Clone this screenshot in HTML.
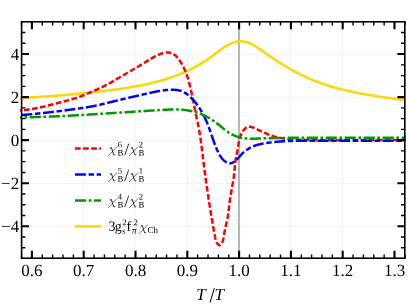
<!DOCTYPE html>
<html><head><meta charset="utf-8"><title>chart</title>
<style>html,body{margin:0;padding:0;background:#fff;overflow:hidden}body{width:407px;height:304px;position:relative;font-family:"Liberation Serif",serif}</style>
</head><body>
<svg width="407" height="304" viewBox="0 0 407 304" style="position:absolute;left:0;top:0;will-change:transform">
<rect width="407" height="304" fill="#fff"/>
<path d="M83.50,21.8 V258.2 M135.50,21.8 V258.2 M187.50,21.8 V258.2 M290.50,21.8 V258.2 M342.50,21.8 V258.2 M21.6,226.50 H404.8 M21.6,183.50 H404.8 M21.6,140.50 H404.8 M21.6,97.50 H404.8 M21.6,54.50 H404.8" stroke="#f4f4f4" stroke-width="1" fill="none"/>
<path d="M239.0,21.8 V258.2" stroke="#939393" stroke-width="1.35" fill="none"/>
<g fill="none" stroke-width="2.5" stroke-linejoin="round">
<path d="M19.99,97.76 L20.49,97.75 L20.99,97.73 L21.49,97.72 L21.99,97.70 L22.49,97.69 L23.00,97.67 L23.50,97.66 L24.00,97.64 L24.50,97.62 L25.00,97.60 L25.50,97.59 L26.00,97.57 L26.50,97.55 L27.00,97.53 L27.50,97.51 L28.00,97.49 L28.50,97.47 L29.00,97.45 L29.50,97.42 L30.00,97.40 L30.50,97.38 L31.00,97.36 L31.50,97.33 L32.00,97.31 L32.50,97.29 L33.00,97.26 L33.50,97.24 L34.00,97.21 L34.50,97.19 L34.99,97.16 L35.49,97.14 L35.99,97.11 L36.49,97.08 L36.99,97.05 L37.49,97.03 L37.99,97.00 L38.49,96.97 L38.99,96.94 L39.48,96.91 L39.98,96.88 L40.48,96.85 L40.98,96.82 L41.48,96.79 L41.98,96.76 L42.48,96.73 L42.97,96.70 L43.47,96.67 L43.97,96.63 L44.47,96.60 L44.97,96.57 L45.47,96.53 L45.96,96.50 L46.46,96.47 L46.96,96.43 L47.46,96.40 L47.96,96.36 L48.45,96.33 L48.95,96.29 L49.45,96.26 L49.95,96.22 L50.44,96.18 L50.94,96.15 L51.44,96.11 L51.94,96.07 L52.43,96.03 L52.93,96.00 L53.43,95.96 L53.93,95.92 L54.42,95.88 L54.92,95.84 L55.42,95.80 L55.92,95.76 L56.41,95.72 L56.91,95.68 L57.41,95.64 L57.91,95.60 L58.40,95.56 L58.90,95.52 L59.40,95.48 L59.89,95.43 L60.39,95.39 L60.89,95.35 L61.39,95.31 L61.88,95.26 L62.38,95.22 L62.88,95.18 L63.37,95.13 L63.87,95.09 L64.37,95.04 L64.86,95.00 L65.36,94.96 L65.86,94.91 L66.35,94.87 L66.85,94.82 L67.35,94.77 L67.84,94.73 L68.34,94.68 L68.84,94.64 L69.34,94.59 L69.83,94.54 L70.33,94.50 L70.83,94.45 L71.32,94.40 L71.82,94.35 L72.32,94.30 L72.81,94.26 L73.31,94.21 L73.81,94.16 L74.30,94.11 L74.80,94.06 L75.30,94.01 L75.79,93.96 L76.29,93.91 L76.79,93.86 L77.28,93.81 L77.78,93.76 L78.28,93.71 L78.77,93.66 L79.27,93.61 L79.77,93.56 L80.26,93.51 L80.76,93.46 L81.25,93.41 L81.75,93.36 L82.25,93.31 L82.74,93.25 L83.24,93.20 L83.74,93.15 L84.23,93.10 L84.73,93.05 L85.23,92.99 L85.73,92.94 L86.22,92.89 L86.72,92.83 L87.22,92.78 L87.71,92.73 L88.21,92.67 L88.71,92.62 L89.20,92.57 L89.70,92.51 L90.20,92.46 L90.69,92.41 L91.19,92.35 L91.69,92.30 L92.18,92.24 L92.68,92.19 L93.18,92.13 L93.67,92.08 L94.17,92.02 L94.67,91.97 L95.17,91.91 L95.66,91.86 L96.16,91.80 L96.66,91.75 L97.15,91.69 L97.65,91.64 L98.15,91.58 L98.65,91.52 L99.14,91.47 L99.64,91.41 L100.14,91.35 L100.63,91.30 L101.13,91.24 L101.63,91.18 L102.13,91.13 L102.62,91.07 L103.12,91.01 L103.62,90.95 L104.11,90.90 L104.61,90.84 L105.11,90.78 L105.61,90.72 L106.10,90.66 L106.60,90.60 L107.10,90.54 L107.59,90.48 L108.09,90.42 L108.59,90.36 L109.08,90.30 L109.58,90.24 L110.08,90.18 L110.57,90.12 L111.07,90.06 L111.57,90.00 L112.06,89.93 L112.56,89.87 L113.06,89.81 L113.55,89.74 L114.05,89.68 L114.55,89.61 L115.04,89.55 L115.54,89.48 L116.04,89.42 L116.53,89.35 L117.03,89.29 L117.52,89.22 L118.02,89.15 L118.51,89.08 L119.01,89.02 L119.51,88.95 L120.00,88.88 L120.50,88.81 L120.99,88.74 L121.49,88.67 L121.98,88.60 L122.48,88.52 L122.97,88.45 L123.47,88.38 L123.96,88.31 L124.46,88.23 L124.95,88.16 L125.44,88.08 L125.94,88.01 L126.43,87.93 L126.93,87.85 L127.42,87.78 L127.91,87.70 L128.41,87.62 L128.90,87.54 L129.39,87.46 L129.89,87.38 L130.38,87.30 L130.87,87.22 L131.37,87.14 L131.86,87.05 L132.35,86.97 L132.84,86.89 L133.33,86.80 L133.83,86.72 L134.32,86.63 L134.81,86.54 L135.30,86.45 L135.79,86.37 L136.28,86.28 L136.77,86.19 L137.27,86.10 L137.76,86.00 L138.25,85.91 L138.74,85.82 L139.23,85.73 L139.72,85.63 L140.21,85.54 L140.70,85.44 L141.18,85.34 L141.67,85.24 L142.16,85.15 L142.65,85.05 L143.14,84.95 L143.63,84.85 L144.12,84.74 L144.60,84.64 L145.09,84.54 L145.58,84.43 L146.07,84.33 L146.55,84.22 L147.04,84.11 L147.53,84.01 L148.01,83.90 L148.50,83.79 L148.98,83.68 L149.47,83.56 L149.95,83.45 L150.44,83.34 L150.92,83.22 L151.41,83.11 L151.89,82.99 L152.38,82.87 L152.86,82.75 L153.34,82.63 L153.83,82.51 L154.31,82.39 L154.79,82.27 L155.28,82.14 L155.76,82.02 L156.24,81.89 L156.72,81.77 L157.20,81.64 L157.68,81.51 L158.17,81.38 L158.65,81.25 L159.13,81.12 L159.61,80.98 L160.09,80.85 L160.57,80.71 L161.04,80.58 L161.52,80.44 L162.00,80.30 L162.48,80.16 L162.96,80.02 L163.44,79.87 L163.91,79.73 L164.39,79.59 L164.87,79.44 L165.34,79.29 L165.82,79.14 L166.29,78.99 L166.77,78.84 L167.25,78.69 L167.72,78.54 L168.19,78.38 L168.67,78.23 L169.14,78.07 L169.62,77.91 L170.09,77.75 L170.56,77.59 L171.03,77.43 L171.51,77.26 L171.98,77.10 L172.45,76.93 L172.92,76.77 L173.39,76.60 L173.86,76.43 L174.33,76.26 L174.80,76.08 L175.27,75.91 L175.74,75.73 L176.20,75.56 L176.67,75.38 L177.14,75.20 L177.60,75.02 L178.07,74.84 L178.54,74.65 L179.00,74.47 L179.46,74.28 L179.93,74.09 L180.39,73.90 L180.85,73.71 L181.32,73.52 L181.78,73.33 L182.24,73.13 L182.70,72.94 L183.16,72.74 L183.62,72.54 L184.08,72.34 L184.53,72.14 L184.99,71.94 L185.45,71.73 L185.90,71.53 L186.36,71.32 L186.82,71.11 L187.27,70.90 L187.72,70.69 L188.17,70.47 L188.63,70.26 L189.08,70.04 L189.53,69.83 L189.98,69.61 L190.43,69.39 L190.88,69.16 L191.32,68.94 L191.77,68.72 L192.22,68.49 L192.66,68.26 L193.10,68.03 L193.55,67.80 L193.99,67.57 L194.43,67.33 L194.87,67.10 L195.31,66.86 L195.75,66.62 L196.19,66.38 L196.63,66.14 L197.06,65.90 L197.50,65.65 L197.94,65.41 L198.37,65.16 L198.80,64.91 L199.23,64.66 L199.66,64.41 L200.09,64.15 L200.52,63.90 L200.95,63.64 L201.38,63.38 L201.81,63.12 L202.23,62.86 L202.65,62.59 L203.08,62.33 L203.50,62.06 L203.92,61.79 L204.34,61.52 L204.76,61.25 L205.18,60.98 L205.59,60.70 L206.01,60.42 L206.42,60.15 L206.84,59.87 L207.25,59.58 L207.66,59.30 L208.07,59.02 L208.48,58.73 L208.89,58.44 L209.29,58.15 L209.70,57.86 L210.10,57.56 L210.51,57.27 L210.91,56.97 L211.31,56.68 L211.71,56.38 L212.11,56.08 L212.51,55.78 L212.91,55.48 L213.31,55.18 L213.71,54.87 L214.11,54.57 L214.50,54.27 L214.90,53.97 L215.30,53.66 L215.70,53.36 L216.10,53.06 L216.49,52.76 L216.89,52.46 L217.29,52.16 L217.69,51.86 L218.09,51.56 L218.49,51.26 L218.89,50.96 L219.30,50.67 L219.70,50.37 L220.11,50.08 L220.51,49.79 L220.92,49.50 L221.33,49.22 L221.74,48.93 L222.15,48.65 L222.56,48.37 L222.98,48.09 L223.39,47.82 L223.81,47.55 L224.23,47.28 L224.66,47.01 L225.08,46.75 L225.51,46.49 L225.94,46.23 L226.37,45.98 L226.80,45.73 L227.24,45.48 L227.68,45.24 L228.12,45.00 L228.57,44.77 L229.01,44.54 L229.47,44.32 L229.92,44.10 L230.38,43.88 L230.84,43.67 L231.30,43.47 L231.76,43.27 L232.23,43.08 L232.70,42.90 L233.17,42.72 L233.65,42.55 L234.12,42.39 L234.60,42.24 L235.08,42.10 L235.56,41.97 L236.04,41.85 L236.53,41.74 L237.02,41.64 L237.50,41.55 L237.99,41.48 L238.48,41.41 L238.97,41.36 L239.46,41.32 L239.95,41.30 L240.45,41.29 L240.94,41.29 L241.43,41.30 L241.93,41.33 L242.42,41.37 L242.91,41.42 L243.40,41.48 L243.89,41.55 L244.38,41.64 L244.87,41.73 L245.36,41.84 L245.85,41.96 L246.33,42.08 L246.81,42.22 L247.29,42.37 L247.77,42.52 L248.24,42.68 L248.71,42.86 L249.18,43.04 L249.65,43.22 L250.11,43.42 L250.57,43.62 L251.03,43.83 L251.48,44.05 L251.93,44.28 L252.37,44.51 L252.82,44.74 L253.26,44.98 L253.70,45.23 L254.13,45.48 L254.57,45.74 L255.00,46.00 L255.43,46.26 L255.85,46.53 L256.28,46.80 L256.70,47.07 L257.12,47.35 L257.54,47.63 L257.96,47.91 L258.38,48.19 L258.80,48.47 L259.21,48.76 L259.63,49.04 L260.04,49.33 L260.45,49.62 L260.87,49.90 L261.28,50.19 L261.69,50.48 L262.10,50.76 L262.51,51.05 L262.92,51.34 L263.33,51.63 L263.73,51.91 L264.14,52.20 L264.55,52.49 L264.96,52.78 L265.37,53.06 L265.77,53.35 L266.18,53.64 L266.59,53.92 L267.00,54.21 L267.41,54.50 L267.81,54.78 L268.22,55.07 L268.63,55.35 L269.04,55.64 L269.45,55.92 L269.86,56.21 L270.27,56.49 L270.68,56.77 L271.10,57.05 L271.51,57.33 L271.92,57.61 L272.33,57.89 L272.75,58.17 L273.16,58.45 L273.58,58.73 L273.99,59.01 L274.41,59.28 L274.82,59.56 L275.24,59.84 L275.66,60.11 L276.08,60.38 L276.49,60.66 L276.91,60.93 L277.33,61.20 L277.75,61.47 L278.17,61.75 L278.59,62.02 L279.01,62.28 L279.44,62.55 L279.86,62.82 L280.28,63.09 L280.70,63.35 L281.13,63.62 L281.55,63.88 L281.98,64.15 L282.40,64.41 L282.83,64.67 L283.25,64.94 L283.68,65.20 L284.11,65.46 L284.54,65.71 L284.96,65.97 L285.39,66.23 L285.82,66.49 L286.25,66.74 L286.68,67.00 L287.11,67.25 L287.54,67.50 L287.98,67.76 L288.41,68.01 L288.84,68.26 L289.28,68.51 L289.71,68.76 L290.14,69.00 L290.58,69.25 L291.01,69.49 L291.45,69.74 L291.89,69.98 L292.32,70.23 L292.76,70.47 L293.20,70.71 L293.64,70.95 L294.08,71.19 L294.52,71.42 L294.96,71.66 L295.40,71.90 L295.84,72.13 L296.28,72.36 L296.72,72.60 L297.16,72.83 L297.61,73.06 L298.05,73.29 L298.50,73.51 L298.94,73.74 L299.39,73.97 L299.83,74.19 L300.28,74.41 L300.72,74.64 L301.17,74.86 L301.62,75.08 L302.07,75.30 L302.52,75.51 L302.97,75.73 L303.42,75.95 L303.87,76.16 L304.32,76.37 L304.77,76.59 L305.22,76.80 L305.67,77.01 L306.13,77.21 L306.58,77.42 L307.03,77.63 L307.49,77.83 L307.94,78.03 L308.40,78.23 L308.86,78.44 L309.31,78.63 L309.77,78.83 L310.23,79.03 L310.69,79.22 L311.14,79.42 L311.60,79.61 L312.06,79.80 L312.52,79.99 L312.98,80.18 L313.45,80.37 L313.91,80.55 L314.37,80.74 L314.83,80.92 L315.30,81.10 L315.76,81.28 L316.22,81.46 L316.69,81.64 L317.16,81.82 L317.62,81.99 L318.09,82.17 L318.55,82.34 L319.02,82.51 L319.49,82.69 L319.96,82.85 L320.43,83.02 L320.89,83.19 L321.36,83.36 L321.83,83.52 L322.30,83.68 L322.78,83.85 L323.25,84.01 L323.72,84.17 L324.19,84.33 L324.66,84.49 L325.14,84.64 L325.61,84.80 L326.08,84.95 L326.56,85.11 L327.03,85.26 L327.51,85.41 L327.98,85.56 L328.46,85.71 L328.93,85.86 L329.41,86.00 L329.89,86.15 L330.36,86.29 L330.84,86.44 L331.32,86.58 L331.80,86.72 L332.28,86.86 L332.75,87.00 L333.23,87.14 L333.71,87.28 L334.19,87.41 L334.67,87.55 L335.16,87.68 L335.64,87.82 L336.12,87.95 L336.60,88.08 L337.08,88.21 L337.56,88.34 L338.05,88.47 L338.53,88.60 L339.01,88.72 L339.50,88.85 L339.98,88.97 L340.46,89.10 L340.95,89.22 L341.43,89.34 L341.92,89.47 L342.40,89.59 L342.89,89.71 L343.37,89.82 L343.86,89.94 L344.35,90.06 L344.83,90.17 L345.32,90.29 L345.81,90.40 L346.30,90.52 L346.78,90.63 L347.27,90.74 L347.76,90.85 L348.25,90.96 L348.74,91.07 L349.22,91.18 L349.71,91.29 L350.20,91.40 L350.69,91.50 L351.18,91.61 L351.67,91.71 L352.16,91.82 L352.65,91.92 L353.14,92.02 L353.63,92.13 L354.12,92.23 L354.61,92.33 L355.11,92.43 L355.60,92.53 L356.09,92.62 L356.58,92.72 L357.07,92.82 L357.56,92.92 L358.06,93.01 L358.55,93.11 L359.04,93.20 L359.53,93.29 L360.03,93.39 L360.52,93.48 L361.01,93.57 L361.50,93.66 L362.00,93.75 L362.49,93.84 L362.98,93.93 L363.48,94.02 L363.97,94.11 L364.46,94.20 L364.96,94.28 L365.45,94.37 L365.95,94.46 L366.44,94.54 L366.93,94.63 L367.43,94.71 L367.92,94.79 L368.42,94.88 L368.91,94.96 L369.41,95.04 L369.90,95.13 L370.40,95.21 L370.89,95.29 L371.39,95.37 L371.88,95.45 L372.38,95.53 L372.87,95.61 L373.37,95.68 L373.86,95.76 L374.36,95.84 L374.85,95.92 L375.35,95.99 L375.84,96.07 L376.34,96.15 L376.83,96.22 L377.33,96.30 L377.82,96.37 L378.32,96.45 L378.81,96.52 L379.31,96.59 L379.80,96.67 L380.30,96.74 L380.79,96.81 L381.29,96.88 L381.78,96.96 L382.28,97.03 L382.77,97.10 L383.27,97.17 L383.76,97.24 L384.26,97.31 L384.75,97.38 L385.25,97.45 L385.74,97.52 L386.23,97.59 L386.73,97.66 L387.22,97.73 L387.72,97.79 L388.21,97.86 L388.71,97.93 L389.20,98.00 L389.69,98.06 L390.19,98.13 L390.68,98.20 L391.18,98.27 L391.67,98.33 L392.16,98.40 L392.66,98.47 L393.15,98.53 L393.64,98.60 L394.13,98.66 L394.63,98.73 L395.12,98.79 L395.61,98.86 L396.11,98.92 L396.60,98.99 L397.09,99.05 L397.58,99.12 L398.07,99.18 L398.57,99.25 L399.06,99.31 L399.55,99.38 L400.04,99.44 L400.53,99.51 L401.02,99.57 L401.51,99.64 L402.00,99.70 L402.49,99.76 L402.98,99.83 L403.47,99.89 L403.96,99.96 L404.45,100.02 L404.94,100.08 L405.43,100.15" stroke="#ffd700"/>
<path d="M20.00,110.50 L20.50,110.46 L21.00,110.42 L21.51,110.38 L22.01,110.34 L22.51,110.29 L23.01,110.25 L23.51,110.20 L24.00,110.14 L24.50,110.09 L25.00,110.03 L25.50,109.97 L26.00,109.91 L26.49,109.85 L26.99,109.79 L27.49,109.72 L27.98,109.65 L28.48,109.58 L28.97,109.51 L29.47,109.43 L29.96,109.36 L30.45,109.28 L30.95,109.20 L31.44,109.12 L31.93,109.03 L32.42,108.95 L32.92,108.86 L33.41,108.78 L33.90,108.69 L34.39,108.60 L34.88,108.50 L35.37,108.41 L35.86,108.31 L36.35,108.22 L36.84,108.12 L37.33,108.02 L37.82,107.92 L38.31,107.82 L38.80,107.71 L39.29,107.61 L39.77,107.50 L40.26,107.40 L40.75,107.29 L41.24,107.18 L41.72,107.07 L42.21,106.96 L42.70,106.85 L43.18,106.74 L43.67,106.62 L44.16,106.51 L44.64,106.39 L45.13,106.28 L45.62,106.16 L46.10,106.04 L46.59,105.92 L47.07,105.80 L47.56,105.68 L48.04,105.56 L48.53,105.44 L49.01,105.32 L49.50,105.20 L49.98,105.07 L50.47,104.95 L50.95,104.83 L51.44,104.70 L51.92,104.58 L52.40,104.45 L52.89,104.33 L53.37,104.20 L53.86,104.08 L54.34,103.95 L54.83,103.83 L55.31,103.70 L55.79,103.57 L56.28,103.45 L56.76,103.32 L57.25,103.19 L57.73,103.07 L58.22,102.94 L58.70,102.81 L59.19,102.69 L59.67,102.56 L60.15,102.44 L60.64,102.31 L61.12,102.18 L61.61,102.06 L62.09,101.93 L62.58,101.80 L63.06,101.68 L63.54,101.55 L64.03,101.42 L64.51,101.30 L65.00,101.17 L65.48,101.04 L65.96,100.91 L66.45,100.78 L66.93,100.65 L67.41,100.52 L67.90,100.39 L68.38,100.26 L68.86,100.12 L69.34,99.99 L69.82,99.85 L70.30,99.71 L70.78,99.58 L71.26,99.44 L71.74,99.30 L72.22,99.16 L72.70,99.01 L73.18,98.87 L73.66,98.72 L74.14,98.58 L74.61,98.43 L75.09,98.28 L75.56,98.12 L76.04,97.97 L76.51,97.81 L76.99,97.66 L77.46,97.50 L77.93,97.33 L78.41,97.17 L78.88,97.00 L79.35,96.84 L79.82,96.67 L80.29,96.49 L80.75,96.32 L81.22,96.14 L81.69,95.96 L82.15,95.78 L82.62,95.60 L83.09,95.42 L83.55,95.24 L84.01,95.05 L84.48,94.86 L84.94,94.67 L85.40,94.48 L85.87,94.29 L86.33,94.10 L86.79,93.91 L87.25,93.71 L87.71,93.52 L88.17,93.32 L88.63,93.13 L89.09,92.93 L89.55,92.73 L90.01,92.54 L90.47,92.34 L90.93,92.14 L91.39,91.94 L91.85,91.75 L92.31,91.55 L92.77,91.35 L93.23,91.15 L93.69,90.95 L94.15,90.75 L94.60,90.55 L95.06,90.35 L95.52,90.14 L95.98,89.94 L96.43,89.74 L96.89,89.53 L97.35,89.33 L97.80,89.12 L98.26,88.91 L98.71,88.71 L99.16,88.50 L99.62,88.29 L100.07,88.08 L100.52,87.87 L100.98,87.65 L101.43,87.44 L101.88,87.22 L102.33,87.01 L102.78,86.79 L103.23,86.57 L103.67,86.35 L104.12,86.13 L104.57,85.91 L105.01,85.68 L105.46,85.46 L105.90,85.23 L106.35,85.00 L106.79,84.77 L107.23,84.54 L107.67,84.31 L108.11,84.07 L108.55,83.84 L108.99,83.60 L109.43,83.36 L109.87,83.12 L110.30,82.87 L110.74,82.63 L111.17,82.38 L111.61,82.13 L112.04,81.88 L112.47,81.63 L112.90,81.38 L113.33,81.13 L113.76,80.87 L114.19,80.62 L114.62,80.36 L115.05,80.11 L115.48,79.85 L115.91,79.59 L116.34,79.33 L116.77,79.07 L117.19,78.82 L117.62,78.56 L118.05,78.30 L118.48,78.04 L118.91,77.79 L119.34,77.53 L119.77,77.27 L120.20,77.02 L120.63,76.76 L121.07,76.51 L121.50,76.26 L121.93,76.00 L122.36,75.75 L122.80,75.50 L123.23,75.25 L123.66,75.00 L124.10,74.75 L124.53,74.50 L124.97,74.25 L125.40,74.00 L125.83,73.75 L126.27,73.50 L126.70,73.25 L127.14,73.00 L127.57,72.75 L128.01,72.51 L128.44,72.26 L128.88,72.01 L129.31,71.76 L129.75,71.51 L130.18,71.26 L130.62,71.01 L131.05,70.77 L131.49,70.52 L131.92,70.27 L132.35,70.02 L132.79,69.77 L133.22,69.52 L133.65,69.27 L134.08,69.01 L134.52,68.76 L134.95,68.51 L135.38,68.26 L135.81,68.00 L136.24,67.75 L136.67,67.50 L137.10,67.24 L137.53,66.98 L137.95,66.73 L138.38,66.47 L138.81,66.21 L139.23,65.95 L139.66,65.69 L140.08,65.43 L140.51,65.17 L140.93,64.91 L141.35,64.64 L141.78,64.38 L142.20,64.11 L142.62,63.85 L143.04,63.58 L143.46,63.32 L143.88,63.05 L144.31,62.79 L144.73,62.52 L145.15,62.26 L145.57,62.00 L145.99,61.73 L146.42,61.47 L146.84,61.21 L147.26,60.94 L147.69,60.68 L148.11,60.42 L148.54,60.16 L148.97,59.91 L149.39,59.65 L149.82,59.39 L150.25,59.14 L150.68,58.89 L151.11,58.64 L151.55,58.39 L151.98,58.14 L152.42,57.89 L152.85,57.65 L153.29,57.41 L153.73,57.17 L154.17,56.93 L154.62,56.70 L155.06,56.46 L155.51,56.23 L155.96,56.01 L156.41,55.78 L156.87,55.56 L157.32,55.34 L157.78,55.13 L158.24,54.91 L158.70,54.71 L159.17,54.50 L159.64,54.30 L160.11,54.10 L160.58,53.91 L161.06,53.72 L161.53,53.54 L162.01,53.37 L162.49,53.21 L162.98,53.06 L163.46,52.93 L163.95,52.80 L164.44,52.69 L164.93,52.60 L165.42,52.52 L165.91,52.46 L166.41,52.42 L166.90,52.39 L167.40,52.39 L167.90,52.41 L168.39,52.45 L168.89,52.52 L169.39,52.60 L169.88,52.71 L170.37,52.83 L170.85,52.97 L171.33,53.14 L171.81,53.32 L172.28,53.51 L172.74,53.73 L173.19,53.96 L173.63,54.21 L174.06,54.48 L174.48,54.76 L174.89,55.06 L175.28,55.37 L175.67,55.69 L176.04,56.03 L176.40,56.38 L176.76,56.74 L177.10,57.11 L177.43,57.49 L177.76,57.87 L178.08,58.27 L178.39,58.67 L178.69,59.08 L178.99,59.49 L179.28,59.90 L179.57,60.32 L179.85,60.74 L180.13,61.17 L180.40,61.59 L180.67,62.02 L180.93,62.45 L181.20,62.88 L181.45,63.31 L181.70,63.74 L181.95,64.18 L182.20,64.61 L182.44,65.05 L182.67,65.49 L182.91,65.93 L183.13,66.38 L183.36,66.82 L183.58,67.27 L183.80,67.71 L184.01,68.16 L184.22,68.61 L184.43,69.07 L184.64,69.52 L184.84,69.97 L185.03,70.43 L185.23,70.89 L185.42,71.34 L185.61,71.80 L185.79,72.26 L185.97,72.73 L186.15,73.19 L186.33,73.65 L186.50,74.12 L186.67,74.58 L186.84,75.05 L187.00,75.52 L187.17,75.99 L187.33,76.46 L187.48,76.93 L187.64,77.41 L187.79,77.88 L187.94,78.35 L188.09,78.83 L188.23,79.31 L188.37,79.78 L188.51,80.26 L188.65,80.74 L188.79,81.22 L188.92,81.70 L189.06,82.18 L189.19,82.66 L189.32,83.15 L189.44,83.63 L189.57,84.11 L189.69,84.60 L189.81,85.08 L189.93,85.57 L190.05,86.06 L190.17,86.54 L190.29,87.03 L190.40,87.52 L190.51,88.01 L190.63,88.50 L190.74,88.99 L190.85,89.48 L190.96,89.97 L191.06,90.46 L191.17,90.95 L191.27,91.44 L191.38,91.93 L191.48,92.42 L191.59,92.91 L191.69,93.41 L191.79,93.90 L191.89,94.39 L191.99,94.88 L192.09,95.38 L192.19,95.87 L192.29,96.36 L192.39,96.86 L192.49,97.35 L192.58,97.84 L192.68,98.34 L192.78,98.83 L192.88,99.32 L192.98,99.82 L193.07,100.31 L193.17,100.80 L193.27,101.29 L193.37,101.79 L193.47,102.28 L193.56,102.77 L193.66,103.26 L193.76,103.76 L193.86,104.25 L193.96,104.74 L194.06,105.23 L194.16,105.72 L194.26,106.21 L194.37,106.70 L194.47,107.19 L194.57,107.68 L194.67,108.17 L194.77,108.66 L194.88,109.15 L194.98,109.64 L195.08,110.13 L195.19,110.62 L195.29,111.11 L195.39,111.59 L195.50,112.08 L195.60,112.57 L195.70,113.06 L195.81,113.55 L195.91,114.04 L196.01,114.52 L196.11,115.01 L196.22,115.50 L196.32,115.99 L196.42,116.48 L196.53,116.96 L196.63,117.45 L196.73,117.94 L196.83,118.43 L196.93,118.92 L197.04,119.40 L197.14,119.89 L197.24,120.38 L197.34,120.87 L197.44,121.35 L197.54,121.84 L197.64,122.33 L197.73,122.82 L197.83,123.31 L197.93,123.79 L198.03,124.28 L198.12,124.77 L198.22,125.26 L198.31,125.75 L198.41,126.24 L198.50,126.73 L198.60,127.22 L198.69,127.71 L198.78,128.19 L198.87,128.68 L198.96,129.17 L199.05,129.66 L199.14,130.15 L199.23,130.65 L199.32,131.14 L199.40,131.63 L199.49,132.12 L199.57,132.61 L199.66,133.10 L199.74,133.59 L199.82,134.09 L199.90,134.58 L199.98,135.07 L200.06,135.56 L200.14,136.06 L200.22,136.55 L200.29,137.05 L200.37,137.54 L200.44,138.03 L200.51,138.53 L200.59,139.02 L200.66,139.52 L200.73,140.01 L200.80,140.51 L200.87,141.01 L200.94,141.50 L201.00,142.00 L201.07,142.49 L201.14,142.99 L201.21,143.49 L201.27,143.98 L201.34,144.48 L201.40,144.98 L201.47,145.47 L201.53,145.97 L201.59,146.47 L201.66,146.97 L201.72,147.46 L201.78,147.96 L201.84,148.46 L201.91,148.96 L201.97,149.45 L202.03,149.95 L202.09,150.45 L202.15,150.95 L202.21,151.44 L202.27,151.94 L202.34,152.44 L202.40,152.94 L202.46,153.43 L202.52,153.93 L202.58,154.43 L202.64,154.93 L202.70,155.42 L202.76,155.92 L202.83,156.42 L202.89,156.92 L202.95,157.41 L203.01,157.91 L203.07,158.41 L203.14,158.90 L203.20,159.40 L203.26,159.90 L203.32,160.39 L203.39,160.89 L203.45,161.39 L203.51,161.88 L203.57,162.38 L203.64,162.88 L203.70,163.37 L203.76,163.87 L203.83,164.37 L203.89,164.86 L203.96,165.36 L204.02,165.86 L204.08,166.35 L204.15,166.85 L204.21,167.34 L204.28,167.84 L204.34,168.34 L204.41,168.83 L204.47,169.33 L204.54,169.82 L204.60,170.32 L204.67,170.81 L204.73,171.31 L204.80,171.81 L204.86,172.30 L204.93,172.80 L204.99,173.29 L205.06,173.79 L205.13,174.28 L205.19,174.78 L205.26,175.27 L205.33,175.77 L205.39,176.26 L205.46,176.76 L205.53,177.25 L205.60,177.75 L205.66,178.24 L205.73,178.74 L205.80,179.23 L205.87,179.73 L205.93,180.22 L206.00,180.72 L206.07,181.21 L206.14,181.71 L206.21,182.20 L206.28,182.70 L206.35,183.19 L206.42,183.69 L206.49,184.18 L206.55,184.68 L206.62,185.17 L206.69,185.67 L206.76,186.16 L206.84,186.65 L206.91,187.15 L206.98,187.64 L207.05,188.14 L207.12,188.63 L207.19,189.13 L207.26,189.62 L207.33,190.11 L207.40,190.61 L207.48,191.10 L207.55,191.60 L207.62,192.09 L207.69,192.58 L207.77,193.08 L207.84,193.57 L207.91,194.07 L207.98,194.56 L208.06,195.05 L208.13,195.55 L208.21,196.04 L208.28,196.54 L208.35,197.03 L208.43,197.52 L208.50,198.02 L208.58,198.51 L208.65,199.01 L208.73,199.50 L208.80,199.99 L208.88,200.49 L208.95,200.98 L209.03,201.47 L209.11,201.97 L209.18,202.46 L209.26,202.96 L209.34,203.45 L209.41,203.94 L209.49,204.44 L209.57,204.93 L209.65,205.42 L209.72,205.92 L209.80,206.41 L209.88,206.90 L209.96,207.40 L210.04,207.89 L210.12,208.38 L210.20,208.88 L210.27,209.37 L210.35,209.86 L210.43,210.36 L210.51,210.85 L210.59,211.34 L210.68,211.84 L210.76,212.33 L210.84,212.82 L210.92,213.32 L211.00,213.81 L211.08,214.30 L211.16,214.80 L211.25,215.29 L211.33,215.79 L211.41,216.28 L211.49,216.77 L211.58,217.27 L211.66,217.76 L211.74,218.25 L211.83,218.75 L211.91,219.24 L212.00,219.73 L212.08,220.23 L212.16,220.72 L212.25,221.21 L212.34,221.71 L212.42,222.20 L212.51,222.69 L212.59,223.19 L212.68,223.68 L212.77,224.17 L212.85,224.67 L212.94,225.16 L213.03,225.65 L213.11,226.15 L213.20,226.64 L213.29,227.13 L213.38,227.63 L213.47,228.12 L213.56,228.61 L213.65,229.11 L213.74,229.60 L213.82,230.09 L213.91,230.59 L214.00,231.08 L214.10,231.57 L214.19,232.07 L214.28,232.56 L214.37,233.05 L214.46,233.55 L214.55,234.04 L214.64,234.53 L214.74,235.03 L214.83,235.52 L214.92,236.02 L215.02,236.51 L215.11,237.00 L215.20,237.50 L215.30,237.99 L215.40,238.48 L215.50,238.97 L215.62,239.46 L215.75,239.95 L215.89,240.43 L216.05,240.91 L216.22,241.38 L216.42,241.85 L216.64,242.31 L216.89,242.76 L217.17,243.21 L217.49,243.65 L217.83,244.07 L218.19,244.45 L218.57,244.77 L218.97,245.01 L219.36,245.15 L219.74,245.16 L220.12,245.05 L220.48,244.82 L220.83,244.50 L221.16,244.11 L221.47,243.67 L221.75,243.19 L222.02,242.70 L222.26,242.22 L222.47,241.73 L222.67,241.24 L222.84,240.75 L223.00,240.26 L223.14,239.76 L223.27,239.27 L223.38,238.78 L223.49,238.28 L223.58,237.79 L223.66,237.30 L223.74,236.80 L223.82,236.31 L223.89,235.82 L223.96,235.32 L224.03,234.83 L224.10,234.34 L224.18,233.84 L224.26,233.35 L224.34,232.86 L224.43,232.37 L224.51,231.88 L224.61,231.39 L224.70,230.90 L224.80,230.41 L224.90,229.92 L225.00,229.44 L225.10,228.95 L225.21,228.46 L225.32,227.97 L225.43,227.48 L225.54,227.00 L225.65,226.51 L225.76,226.02 L225.87,225.53 L225.98,225.05 L226.10,224.56 L226.21,224.07 L226.32,223.58 L226.43,223.10 L226.55,222.61 L226.66,222.12 L226.77,221.63 L226.88,221.14 L226.98,220.66 L227.09,220.17 L227.19,219.68 L227.30,219.19 L227.40,218.70 L227.50,218.21 L227.59,217.72 L227.68,217.23 L227.78,216.74 L227.86,216.24 L227.95,215.75 L228.03,215.26 L228.11,214.77 L228.18,214.27 L228.25,213.78 L228.32,213.28 L228.39,212.79 L228.45,212.29 L228.51,211.79 L228.57,211.30 L228.63,210.80 L228.69,210.30 L228.74,209.81 L228.80,209.31 L228.85,208.81 L228.90,208.31 L228.96,207.82 L229.01,207.32 L229.06,206.82 L229.12,206.32 L229.17,205.83 L229.23,205.33 L229.29,204.83 L229.34,204.33 L229.40,203.84 L229.46,203.34 L229.53,202.85 L229.59,202.35 L229.66,201.85 L229.73,201.36 L229.80,200.86 L229.87,200.37 L229.94,199.87 L230.01,199.38 L230.09,198.89 L230.17,198.39 L230.24,197.90 L230.32,197.41 L230.40,196.91 L230.48,196.42 L230.57,195.93 L230.65,195.43 L230.73,194.94 L230.82,194.45 L230.90,193.95 L230.99,193.46 L231.07,192.97 L231.16,192.48 L231.25,191.99 L231.34,191.49 L231.42,191.00 L231.51,190.51 L231.60,190.02 L231.69,189.53 L231.78,189.03 L231.86,188.54 L231.95,188.05 L232.04,187.56 L232.13,187.06 L232.21,186.57 L232.30,186.08 L232.39,185.59 L232.47,185.10 L232.56,184.60 L232.65,184.11 L232.73,183.62 L232.81,183.12 L232.90,182.63 L232.98,182.14 L233.06,181.64 L233.14,181.15 L233.22,180.66 L233.30,180.16 L233.37,179.67 L233.45,179.18 L233.52,178.68 L233.59,178.19 L233.67,177.69 L233.74,177.20 L233.80,176.70 L233.87,176.20 L233.93,175.71 L234.00,175.21 L234.06,174.72 L234.12,174.22 L234.17,173.72 L234.23,173.22 L234.28,172.73 L234.33,172.23 L234.38,171.73 L234.43,171.23 L234.47,170.73 L234.52,170.23 L234.56,169.73 L234.60,169.23 L234.64,168.73 L234.68,168.23 L234.72,167.73 L234.77,167.23 L234.81,166.73 L234.85,166.23 L234.90,165.73 L234.94,165.24 L234.99,164.74 L235.04,164.24 L235.09,163.75 L235.15,163.25 L235.21,162.75 L235.27,162.26 L235.34,161.77 L235.41,161.27 L235.48,160.78 L235.56,160.29 L235.64,159.80 L235.72,159.31 L235.81,158.82 L235.90,158.33 L235.99,157.84 L236.08,157.35 L236.17,156.86 L236.26,156.37 L236.36,155.89 L236.45,155.40 L236.55,154.91 L236.65,154.42 L236.75,153.93 L236.84,153.44 L236.94,152.95 L237.04,152.46 L237.13,151.97 L237.23,151.48 L237.32,150.98 L237.42,150.49 L237.51,150.00 L237.60,149.50 L237.69,149.01 L237.77,148.51 L237.86,148.01 L237.94,147.51 L238.02,147.01 L238.10,146.51 L238.18,146.01 L238.26,145.51 L238.34,145.01 L238.42,144.51 L238.50,144.01 L238.58,143.52 L238.67,143.02 L238.75,142.52 L238.84,142.02 L238.94,141.53 L239.04,141.03 L239.14,140.54 L239.25,140.05 L239.36,139.56 L239.48,139.08 L239.60,138.59 L239.73,138.11 L239.87,137.63 L240.01,137.16 L240.16,136.68 L240.32,136.21 L240.49,135.75 L240.67,135.29 L240.86,134.83 L241.05,134.37 L241.26,133.92 L241.48,133.47 L241.71,133.03 L241.95,132.59 L242.20,132.16 L242.47,131.73 L242.75,131.31 L243.04,130.89 L243.34,130.48 L243.66,130.07 L243.99,129.67 L244.34,129.29 L244.70,128.92 L245.07,128.57 L245.46,128.24 L245.86,127.93 L246.27,127.66 L246.69,127.41 L247.13,127.20 L247.58,127.02 L248.04,126.89 L248.50,126.80 L248.98,126.75 L249.47,126.74 L249.97,126.77 L250.47,126.83 L250.97,126.92 L251.48,127.03 L251.99,127.17 L252.49,127.33 L253.00,127.50 L253.50,127.69 L254.00,127.89 L254.50,128.10 L254.98,128.31 L255.46,128.52 L255.93,128.74 L256.39,128.95 L256.84,129.16 L257.29,129.38 L257.73,129.59 L258.18,129.80 L258.61,130.02 L259.05,130.23 L259.49,130.45 L259.93,130.66 L260.37,130.87 L260.81,131.09 L261.25,131.30 L261.70,131.51 L262.15,131.73 L262.60,131.94 L263.05,132.15 L263.50,132.36 L263.96,132.57 L264.41,132.77 L264.87,132.98 L265.33,133.18 L265.79,133.38 L266.26,133.58 L266.72,133.78 L267.19,133.98 L267.65,134.17 L268.12,134.36 L268.59,134.55 L269.06,134.73 L269.53,134.91 L270.01,135.09 L270.48,135.26 L270.96,135.44 L271.43,135.60 L271.91,135.77 L272.39,135.93 L272.87,136.08 L273.35,136.24 L273.83,136.38 L274.31,136.53 L274.79,136.66 L275.27,136.80 L275.76,136.93 L276.24,137.05 L276.72,137.18 L277.21,137.29 L277.70,137.41 L278.18,137.52 L278.67,137.62 L279.16,137.73 L279.65,137.83 L280.13,137.92 L280.62,138.01 L281.11,138.10 L281.60,138.19 L282.10,138.27 L282.59,138.35 L283.08,138.43 L283.57,138.50 L284.07,138.57 L284.56,138.64 L285.05,138.70 L285.55,138.76 L286.04,138.82 L286.54,138.88 L287.03,138.93 L287.53,138.99 L288.02,139.04 L288.52,139.08 L289.02,139.13 L289.52,139.17 L290.01,139.21 L290.51,139.25 L291.01,139.29 L291.51,139.33 L292.01,139.36 L292.50,139.39 L293.00,139.42 L293.50,139.45 L294.00,139.48 L294.50,139.51 L295.00,139.53 L295.50,139.56 L296.00,139.58 L296.50,139.61 L297.00,139.63 L297.50,139.65 L298.00,139.67 L298.50,139.69 L299.00,139.71 L299.50,139.72 L300.00,139.74 L300.50,139.76 L301.00,139.78 L301.50,139.79 L302.00,139.81 L302.50,139.83 L303.00,139.84 L303.50,139.86 L304.00,139.87 L304.50,139.89 L305.00,139.90 L305.50,139.91 L306.00,139.93 L306.50,139.94 L307.00,139.95 L307.50,139.97 L308.00,139.98 L308.50,139.99 L309.01,140.00 L309.51,140.01 L310.01,140.03 L310.51,140.04 L311.01,140.05 L311.51,140.06 L312.01,140.07 L312.51,140.08 L313.01,140.09 L313.51,140.09 L314.01,140.10 L314.51,140.11 L315.01,140.12 L315.51,140.13 L316.01,140.14 L316.51,140.14 L317.01,140.15 L317.51,140.16 L318.01,140.16 L318.51,140.17 L319.01,140.17 L319.51,140.18 L320.01,140.19 L320.51,140.19 L321.01,140.20 L321.51,140.20 L322.01,140.21 L322.51,140.21 L323.01,140.21 L323.51,140.22 L324.01,140.22 L324.51,140.22 L325.01,140.23 L325.51,140.23 L326.01,140.23 L326.51,140.24 L327.01,140.24 L327.51,140.24 L328.01,140.24 L328.51,140.24 L329.01,140.25 L329.51,140.25 L330.01,140.25 L330.51,140.25 L331.01,140.25 L331.51,140.25 L332.01,140.25 L332.51,140.25 L333.01,140.25 L333.51,140.25 L334.01,140.25 L334.51,140.25 L335.01,140.25 L335.51,140.25 L336.01,140.25 L336.51,140.25 L337.01,140.25 L337.51,140.25 L338.01,140.25 L338.51,140.24 L339.01,140.24 L339.51,140.24 L340.01,140.24 L340.51,140.24 L341.01,140.23 L341.51,140.23 L342.00,140.23 L342.50,140.23 L343.00,140.23 L343.50,140.22 L344.00,140.22 L344.50,140.22 L345.00,140.21 L345.50,140.21 L346.00,140.21 L346.50,140.21 L347.00,140.20 L347.50,140.20 L348.00,140.20 L348.50,140.19 L349.00,140.19 L349.50,140.18 L350.00,140.18 L350.50,140.18 L351.00,140.17 L351.50,140.17 L352.00,140.17 L352.50,140.16 L353.00,140.16 L353.50,140.15 L354.00,140.15 L354.50,140.15 L355.00,140.14 L355.50,140.14 L356.00,140.13 L356.50,140.13 L357.00,140.13 L357.50,140.12 L358.00,140.12 L358.50,140.11 L359.00,140.11 L359.50,140.11 L360.00,140.10 L360.50,140.10 L361.00,140.09 L361.50,140.09 L362.00,140.08 L362.50,140.08 L363.00,140.08 L363.50,140.07 L364.00,140.07 L364.50,140.06 L365.00,140.06 L365.50,140.06 L366.00,140.05 L366.50,140.05 L367.00,140.05 L367.50,140.04 L368.00,140.04 L368.50,140.03 L369.00,140.03 L369.50,140.03 L370.00,140.02 L370.50,140.02 L371.00,140.02 L371.50,140.01 L372.00,140.01 L372.50,140.01 L373.00,140.01 L373.50,140.00 L374.00,140.00 L374.50,140.00 L375.00,139.99 L375.50,139.99 L376.00,139.99 L376.50,139.99 L377.00,139.98 L377.50,139.98 L378.00,139.98 L378.50,139.98 L379.00,139.98 L379.50,139.98 L380.00,139.97 L380.50,139.97 L381.00,139.97 L381.50,139.97 L382.00,139.97 L382.50,139.97 L383.00,139.97 L383.50,139.97 L384.00,139.97 L384.50,139.97 L385.00,139.97 L385.50,139.97 L386.00,139.97 L386.50,139.97 L387.00,139.97 L387.50,139.97 L388.00,139.97 L388.50,139.97 L389.00,139.97 L389.50,139.98 L390.00,139.98 L390.50,139.98 L391.00,139.98 L391.50,139.98 L392.00,139.99 L392.50,139.99 L393.00,139.99 L393.50,140.00 L394.00,140.00 L394.50,140.00 L395.00,140.01 L395.50,140.01 L396.00,140.02 L396.50,140.02 L397.00,140.03 L397.50,140.03 L398.00,140.04 L398.50,140.04 L399.00,140.05 L399.50,140.05 L400.00,140.06 L400.50,140.07 L401.00,140.07 L401.50,140.08 L402.00,140.09 L402.50,140.09 L403.00,140.10 L403.50,140.11 L404.00,140.12 L404.50,140.13 L405.00,140.14 L405.50,140.15" stroke="#ff0000" stroke-dasharray="5.717 2.407" stroke-dashoffset="4.1"/>
<path d="M20.00,115.19 L20.50,115.15 L21.00,115.11 L21.49,115.07 L21.99,115.02 L22.49,114.98 L22.99,114.94 L23.49,114.90 L23.99,114.86 L24.48,114.82 L24.98,114.77 L25.48,114.73 L25.98,114.69 L26.48,114.64 L26.98,114.60 L27.47,114.55 L27.97,114.51 L28.47,114.47 L28.97,114.42 L29.47,114.37 L29.96,114.33 L30.46,114.28 L30.96,114.24 L31.46,114.19 L31.96,114.14 L32.45,114.10 L32.95,114.05 L33.45,114.00 L33.95,113.95 L34.44,113.90 L34.94,113.85 L35.44,113.81 L35.94,113.76 L36.43,113.71 L36.93,113.66 L37.43,113.61 L37.93,113.56 L38.42,113.50 L38.92,113.45 L39.42,113.40 L39.91,113.35 L40.41,113.30 L40.91,113.25 L41.41,113.19 L41.90,113.14 L42.40,113.09 L42.90,113.03 L43.39,112.98 L43.89,112.93 L44.39,112.87 L44.88,112.82 L45.38,112.76 L45.88,112.71 L46.37,112.65 L46.87,112.60 L47.37,112.54 L47.86,112.48 L48.36,112.43 L48.86,112.37 L49.35,112.31 L49.85,112.26 L50.35,112.20 L50.84,112.14 L51.34,112.08 L51.84,112.03 L52.33,111.97 L52.83,111.91 L53.32,111.85 L53.82,111.79 L54.32,111.73 L54.81,111.67 L55.31,111.61 L55.81,111.55 L56.30,111.49 L56.80,111.43 L57.29,111.37 L57.79,111.31 L58.29,111.24 L58.78,111.18 L59.28,111.12 L59.77,111.06 L60.27,111.00 L60.77,110.93 L61.26,110.87 L61.76,110.81 L62.25,110.74 L62.75,110.68 L63.24,110.61 L63.74,110.55 L64.24,110.49 L64.73,110.42 L65.23,110.36 L65.72,110.29 L66.22,110.22 L66.71,110.16 L67.21,110.09 L67.70,110.03 L68.20,109.96 L68.70,109.89 L69.19,109.83 L69.69,109.76 L70.18,109.69 L70.68,109.62 L71.17,109.56 L71.67,109.49 L72.16,109.42 L72.66,109.35 L73.15,109.28 L73.65,109.21 L74.14,109.14 L74.64,109.07 L75.13,109.00 L75.63,108.94 L76.13,108.86 L76.62,108.79 L77.12,108.72 L77.61,108.65 L78.11,108.58 L78.60,108.51 L79.10,108.44 L79.59,108.37 L80.09,108.30 L80.58,108.22 L81.08,108.15 L81.57,108.08 L82.07,108.01 L82.56,107.93 L83.05,107.86 L83.55,107.78 L84.04,107.71 L84.54,107.63 L85.03,107.56 L85.53,107.48 L86.02,107.40 L86.51,107.32 L87.01,107.24 L87.50,107.16 L87.99,107.08 L88.49,107.00 L88.98,106.91 L89.47,106.83 L89.97,106.74 L90.46,106.66 L90.95,106.57 L91.44,106.48 L91.93,106.39 L92.42,106.30 L92.92,106.21 L93.41,106.11 L93.90,106.02 L94.39,105.92 L94.88,105.82 L95.37,105.72 L95.85,105.62 L96.34,105.52 L96.83,105.41 L97.32,105.31 L97.81,105.20 L98.30,105.09 L98.78,104.98 L99.27,104.87 L99.76,104.76 L100.24,104.65 L100.73,104.54 L101.22,104.42 L101.70,104.31 L102.19,104.19 L102.68,104.07 L103.16,103.96 L103.65,103.84 L104.13,103.72 L104.62,103.60 L105.10,103.48 L105.59,103.36 L106.07,103.24 L106.56,103.12 L107.04,103.00 L107.53,102.88 L108.01,102.76 L108.50,102.64 L108.98,102.52 L109.47,102.40 L109.95,102.28 L110.44,102.16 L110.93,102.04 L111.41,101.92 L111.90,101.80 L112.38,101.68 L112.87,101.56 L113.35,101.44 L113.84,101.32 L114.32,101.20 L114.81,101.08 L115.29,100.96 L115.78,100.84 L116.27,100.73 L116.75,100.61 L117.24,100.49 L117.72,100.37 L118.21,100.25 L118.70,100.14 L119.18,100.02 L119.67,99.90 L120.15,99.79 L120.64,99.67 L121.13,99.55 L121.61,99.44 L122.10,99.32 L122.59,99.20 L123.07,99.09 L123.56,98.97 L124.04,98.86 L124.53,98.74 L125.02,98.62 L125.50,98.51 L125.99,98.39 L126.48,98.28 L126.96,98.16 L127.45,98.05 L127.94,97.94 L128.42,97.82 L128.91,97.71 L129.40,97.59 L129.88,97.48 L130.37,97.37 L130.86,97.25 L131.35,97.14 L131.83,97.02 L132.32,96.91 L132.81,96.80 L133.29,96.69 L133.78,96.57 L134.27,96.46 L134.75,96.35 L135.24,96.24 L135.73,96.12 L136.22,96.01 L136.70,95.90 L137.19,95.79 L137.68,95.68 L138.17,95.57 L138.65,95.45 L139.14,95.34 L139.63,95.23 L140.12,95.12 L140.60,95.01 L141.09,94.90 L141.58,94.79 L142.07,94.68 L142.55,94.57 L143.04,94.46 L143.53,94.35 L144.02,94.24 L144.50,94.13 L144.99,94.02 L145.48,93.91 L145.97,93.80 L146.45,93.69 L146.94,93.58 L147.43,93.47 L147.92,93.36 L148.41,93.26 L148.89,93.15 L149.38,93.04 L149.87,92.93 L150.36,92.82 L150.84,92.71 L151.33,92.61 L151.82,92.50 L152.31,92.39 L152.80,92.29 L153.29,92.18 L153.77,92.08 L154.26,91.98 L154.75,91.88 L155.24,91.78 L155.73,91.68 L156.22,91.58 L156.71,91.48 L157.20,91.39 L157.69,91.29 L158.18,91.20 L158.67,91.11 L159.16,91.02 L159.66,90.94 L160.15,90.85 L160.64,90.77 L161.13,90.69 L161.63,90.62 L162.12,90.54 L162.62,90.47 L163.11,90.40 L163.61,90.34 L164.10,90.27 L164.60,90.21 L165.10,90.16 L165.59,90.10 L166.09,90.05 L166.59,90.00 L167.09,89.96 L167.59,89.92 L168.09,89.88 L168.59,89.85 L169.09,89.82 L169.60,89.79 L170.10,89.77 L170.60,89.75 L171.11,89.74 L171.61,89.73 L172.12,89.73 L172.62,89.73 L173.13,89.74 L173.63,89.76 L174.13,89.78 L174.64,89.81 L175.14,89.84 L175.64,89.89 L176.13,89.94 L176.63,90.00 L177.12,90.06 L177.62,90.14 L178.11,90.22 L178.59,90.32 L179.08,90.42 L179.56,90.54 L180.04,90.66 L180.51,90.80 L180.98,90.94 L181.45,91.10 L181.92,91.27 L182.37,91.45 L182.83,91.65 L183.28,91.86 L183.73,92.08 L184.17,92.31 L184.60,92.55 L185.03,92.81 L185.46,93.08 L185.88,93.36 L186.30,93.65 L186.71,93.94 L187.12,94.25 L187.52,94.56 L187.92,94.88 L188.31,95.21 L188.70,95.54 L189.09,95.87 L189.47,96.21 L189.85,96.56 L190.22,96.90 L190.59,97.25 L190.95,97.60 L191.31,97.95 L191.67,98.31 L192.02,98.67 L192.37,99.03 L192.72,99.39 L193.06,99.76 L193.39,100.13 L193.73,100.50 L194.06,100.87 L194.38,101.25 L194.71,101.63 L195.03,102.01 L195.34,102.39 L195.65,102.78 L195.96,103.17 L196.27,103.56 L196.57,103.95 L196.87,104.35 L197.17,104.75 L197.46,105.15 L197.75,105.55 L198.03,105.95 L198.32,106.36 L198.60,106.77 L198.87,107.18 L199.15,107.59 L199.42,108.01 L199.69,108.43 L199.96,108.85 L200.22,109.27 L200.48,109.69 L200.74,110.12 L200.99,110.55 L201.25,110.98 L201.50,111.41 L201.74,111.84 L201.99,112.28 L202.23,112.72 L202.47,113.16 L202.71,113.60 L202.95,114.04 L203.18,114.49 L203.42,114.93 L203.64,115.38 L203.87,115.83 L204.10,116.28 L204.32,116.73 L204.54,117.19 L204.76,117.64 L204.97,118.10 L205.19,118.55 L205.40,119.01 L205.61,119.47 L205.82,119.93 L206.02,120.39 L206.22,120.85 L206.43,121.32 L206.63,121.78 L206.82,122.24 L207.02,122.71 L207.21,123.17 L207.40,123.64 L207.59,124.10 L207.78,124.57 L207.96,125.04 L208.15,125.50 L208.33,125.97 L208.51,126.44 L208.69,126.91 L208.86,127.37 L209.04,127.84 L209.21,128.31 L209.38,128.78 L209.55,129.24 L209.72,129.71 L209.89,130.18 L210.05,130.65 L210.21,131.11 L210.38,131.58 L210.54,132.05 L210.70,132.51 L210.86,132.98 L211.02,133.45 L211.18,133.92 L211.34,134.38 L211.49,134.85 L211.65,135.31 L211.81,135.78 L211.97,136.25 L212.12,136.71 L212.28,137.18 L212.44,137.65 L212.60,138.11 L212.76,138.58 L212.92,139.05 L213.08,139.51 L213.24,139.98 L213.40,140.44 L213.57,140.91 L213.73,141.38 L213.90,141.84 L214.07,142.31 L214.24,142.78 L214.41,143.24 L214.58,143.71 L214.76,144.18 L214.93,144.64 L215.11,145.11 L215.30,145.57 L215.48,146.04 L215.67,146.51 L215.85,146.97 L216.05,147.44 L216.24,147.91 L216.44,148.38 L216.64,148.84 L216.84,149.31 L217.05,149.78 L217.26,150.24 L217.47,150.71 L217.69,151.18 L217.91,151.64 L218.14,152.11 L218.37,152.57 L218.60,153.04 L218.84,153.49 L219.09,153.95 L219.34,154.40 L219.59,154.85 L219.85,155.29 L220.12,155.73 L220.40,156.16 L220.68,156.59 L220.97,157.01 L221.26,157.42 L221.56,157.83 L221.87,158.22 L222.19,158.61 L222.52,158.99 L222.85,159.35 L223.20,159.71 L223.55,160.06 L223.91,160.39 L224.28,160.71 L224.66,161.02 L225.05,161.32 L225.45,161.60 L225.86,161.87 L226.29,162.13 L226.72,162.37 L227.16,162.59 L227.61,162.79 L228.07,162.97 L228.54,163.11 L229.01,163.23 L229.48,163.30 L229.96,163.33 L230.43,163.32 L230.90,163.26 L231.37,163.15 L231.84,163.01 L232.30,162.82 L232.76,162.61 L233.21,162.36 L233.65,162.09 L234.09,161.80 L234.51,161.49 L234.93,161.17 L235.33,160.83 L235.73,160.50 L236.11,160.15 L236.48,159.80 L236.85,159.44 L237.20,159.08 L237.55,158.72 L237.90,158.36 L238.24,157.99 L238.57,157.62 L238.90,157.25 L239.24,156.88 L239.57,156.50 L239.90,156.13 L240.23,155.77 L240.56,155.40 L240.90,155.03 L241.24,154.67 L241.59,154.31 L241.94,153.96 L242.30,153.61 L242.66,153.26 L243.03,152.92 L243.40,152.59 L243.78,152.25 L244.16,151.93 L244.55,151.60 L244.94,151.28 L245.33,150.97 L245.73,150.66 L246.14,150.36 L246.55,150.06 L246.96,149.77 L247.38,149.49 L247.80,149.21 L248.22,148.93 L248.65,148.67 L249.08,148.40 L249.52,148.15 L249.95,147.90 L250.39,147.66 L250.84,147.42 L251.29,147.20 L251.74,146.97 L252.19,146.76 L252.65,146.55 L253.10,146.35 L253.57,146.16 L254.03,145.98 L254.50,145.80 L254.96,145.63 L255.43,145.46 L255.91,145.31 L256.38,145.15 L256.86,145.01 L257.33,144.87 L257.81,144.73 L258.29,144.61 L258.78,144.48 L259.26,144.36 L259.75,144.25 L260.23,144.14 L260.72,144.03 L261.21,143.93 L261.70,143.83 L262.19,143.73 L262.68,143.64 L263.17,143.55 L263.67,143.46 L264.16,143.38 L264.65,143.30 L265.15,143.22 L265.64,143.14 L266.14,143.06 L266.63,142.99 L267.13,142.91 L267.62,142.84 L268.12,142.77 L268.61,142.70 L269.11,142.64 L269.60,142.57 L270.10,142.51 L270.59,142.44 L271.09,142.38 L271.58,142.32 L272.08,142.26 L272.58,142.21 L273.07,142.15 L273.57,142.10 L274.06,142.04 L274.56,141.99 L275.06,141.94 L275.55,141.89 L276.05,141.84 L276.55,141.80 L277.05,141.75 L277.54,141.71 L278.04,141.66 L278.54,141.62 L279.03,141.58 L279.53,141.54 L280.03,141.50 L280.53,141.47 L281.03,141.43 L281.52,141.40 L282.02,141.36 L282.52,141.33 L283.02,141.30 L283.52,141.27 L284.01,141.24 L284.51,141.21 L285.01,141.18 L285.51,141.15 L286.01,141.13 L286.51,141.10 L287.01,141.08 L287.51,141.05 L288.00,141.03 L288.50,141.01 L289.00,140.99 L289.50,140.97 L290.00,140.95 L290.50,140.93 L291.00,140.92 L291.50,140.90 L292.00,140.88 L292.50,140.87 L293.00,140.86 L293.50,140.84 L294.00,140.83 L294.50,140.82 L295.00,140.81 L295.50,140.80 L296.00,140.79 L296.50,140.78 L297.00,140.77 L297.50,140.76 L298.00,140.75 L298.50,140.74 L299.00,140.74 L299.50,140.73 L300.00,140.73 L300.50,140.72 L301.00,140.72 L301.50,140.71 L302.00,140.71 L302.50,140.71 L303.00,140.70 L303.50,140.70 L304.00,140.70 L304.50,140.70 L305.00,140.70 L305.50,140.70 L306.00,140.70 L306.50,140.70 L307.00,140.70 L307.51,140.70 L308.01,140.70 L308.51,140.70 L309.01,140.70 L309.51,140.70 L310.01,140.70 L310.51,140.71 L311.01,140.71 L311.51,140.71 L312.01,140.71 L312.51,140.71 L313.01,140.72 L313.51,140.72 L314.01,140.72 L314.51,140.73 L315.02,140.73 L315.52,140.73 L316.02,140.73 L316.52,140.74 L317.02,140.74 L317.52,140.74 L318.02,140.75 L318.52,140.75 L319.02,140.75 L319.52,140.75 L320.02,140.76 L320.52,140.76 L321.02,140.76 L321.52,140.76 L322.02,140.77 L322.52,140.77 L323.02,140.77 L323.52,140.77 L324.02,140.77 L324.52,140.77 L325.03,140.78 L325.53,140.78 L326.03,140.78 L326.53,140.78 L327.03,140.78 L327.53,140.78 L328.03,140.78 L328.53,140.78 L329.03,140.78 L329.53,140.78 L330.03,140.79 L330.53,140.79 L331.03,140.79 L331.53,140.79 L332.03,140.79 L332.53,140.79 L333.03,140.79 L333.53,140.79 L334.03,140.79 L334.53,140.79 L335.03,140.79 L335.53,140.78 L336.03,140.78 L336.53,140.78 L337.03,140.78 L337.53,140.78 L338.03,140.78 L338.53,140.78 L339.03,140.78 L339.52,140.78 L340.02,140.78 L340.52,140.78 L341.02,140.78 L341.52,140.77 L342.02,140.77 L342.52,140.77 L343.02,140.77 L343.52,140.77 L344.02,140.77 L344.52,140.77 L345.02,140.76 L345.52,140.76 L346.02,140.76 L346.52,140.76 L347.02,140.76 L347.52,140.76 L348.02,140.75 L348.52,140.75 L349.02,140.75 L349.52,140.75 L350.02,140.75 L350.52,140.75 L351.02,140.74 L351.52,140.74 L352.02,140.74 L352.52,140.74 L353.02,140.74 L353.51,140.73 L354.01,140.73 L354.51,140.73 L355.01,140.73 L355.51,140.72 L356.01,140.72 L356.51,140.72 L357.01,140.72 L357.51,140.72 L358.01,140.71 L358.51,140.71 L359.01,140.71 L359.51,140.71 L360.01,140.71 L360.51,140.70 L361.01,140.70 L361.51,140.70 L362.01,140.70 L362.51,140.70 L363.01,140.69 L363.50,140.69 L364.00,140.69 L364.50,140.69 L365.00,140.68 L365.50,140.68 L366.00,140.68 L366.50,140.68 L367.00,140.68 L367.50,140.67 L368.00,140.67 L368.50,140.67 L369.00,140.67 L369.50,140.67 L370.00,140.67 L370.50,140.66 L371.00,140.66 L371.50,140.66 L372.00,140.66 L372.50,140.66 L373.00,140.66 L373.50,140.65 L374.00,140.65 L374.50,140.65 L375.00,140.65 L375.49,140.65 L375.99,140.65 L376.49,140.65 L376.99,140.65 L377.49,140.64 L377.99,140.64 L378.49,140.64 L378.99,140.64 L379.49,140.64 L379.99,140.64 L380.49,140.64 L380.99,140.64 L381.49,140.64 L381.99,140.64 L382.49,140.64 L382.99,140.64 L383.49,140.64 L383.99,140.64 L384.49,140.64 L384.99,140.64 L385.49,140.64 L385.99,140.64 L386.49,140.64 L386.99,140.64 L387.49,140.64 L387.99,140.64 L388.49,140.64 L388.99,140.64 L389.49,140.64 L389.99,140.64 L390.49,140.64 L390.99,140.64 L391.49,140.64 L391.99,140.64 L392.49,140.64 L392.99,140.65 L393.49,140.65 L393.99,140.65 L394.49,140.65 L394.99,140.65 L395.49,140.65 L395.99,140.66 L396.49,140.66 L396.99,140.66 L397.49,140.66 L397.99,140.67 L398.49,140.67 L399.00,140.67 L399.50,140.67 L400.00,140.68 L400.50,140.68 L401.00,140.68 L401.50,140.69 L402.00,140.69 L402.50,140.69 L403.00,140.70 L403.50,140.70 L404.00,140.71 L404.50,140.71 L405.00,140.71 L405.50,140.72" stroke="#0000ff" stroke-dasharray="10.94 2.71 5.42 2.61" stroke-dashoffset="20.28"/>
<path d="M20.01,117.42 L20.51,117.42 L21.00,117.41 L21.50,117.40 L22.00,117.39 L22.50,117.39 L23.00,117.38 L23.50,117.37 L24.00,117.36 L24.50,117.35 L25.00,117.34 L25.50,117.33 L26.00,117.32 L26.50,117.31 L27.00,117.30 L27.49,117.29 L27.99,117.28 L28.49,117.27 L28.99,117.26 L29.49,117.25 L29.99,117.24 L30.49,117.22 L30.99,117.21 L31.49,117.20 L31.99,117.19 L32.49,117.17 L32.99,117.16 L33.49,117.15 L33.98,117.13 L34.48,117.12 L34.98,117.11 L35.48,117.09 L35.98,117.08 L36.48,117.06 L36.98,117.05 L37.48,117.03 L37.98,117.02 L38.48,117.00 L38.98,116.99 L39.48,116.97 L39.98,116.95 L40.47,116.94 L40.97,116.92 L41.47,116.90 L41.97,116.89 L42.47,116.87 L42.97,116.85 L43.47,116.84 L43.97,116.82 L44.47,116.80 L44.97,116.78 L45.47,116.76 L45.97,116.75 L46.46,116.73 L46.96,116.71 L47.46,116.69 L47.96,116.67 L48.46,116.65 L48.96,116.63 L49.46,116.61 L49.96,116.59 L50.46,116.57 L50.96,116.55 L51.46,116.53 L51.96,116.51 L52.45,116.49 L52.95,116.47 L53.45,116.45 L53.95,116.42 L54.45,116.40 L54.95,116.38 L55.45,116.36 L55.95,116.34 L56.45,116.31 L56.95,116.29 L57.45,116.27 L57.95,116.25 L58.44,116.22 L58.94,116.20 L59.44,116.18 L59.94,116.15 L60.44,116.13 L60.94,116.11 L61.44,116.08 L61.94,116.06 L62.44,116.03 L62.94,116.01 L63.44,115.99 L63.93,115.96 L64.43,115.94 L64.93,115.91 L65.43,115.89 L65.93,115.86 L66.43,115.84 L66.93,115.81 L67.43,115.79 L67.93,115.76 L68.43,115.73 L68.93,115.71 L69.42,115.68 L69.92,115.66 L70.42,115.63 L70.92,115.60 L71.42,115.58 L71.92,115.55 L72.42,115.52 L72.92,115.50 L73.42,115.47 L73.92,115.44 L74.42,115.41 L74.91,115.39 L75.41,115.36 L75.91,115.33 L76.41,115.30 L76.91,115.28 L77.41,115.25 L77.91,115.22 L78.41,115.19 L78.91,115.16 L79.41,115.14 L79.90,115.11 L80.40,115.08 L80.90,115.05 L81.40,115.02 L81.90,114.99 L82.40,114.96 L82.90,114.93 L83.40,114.90 L83.90,114.87 L84.40,114.85 L84.89,114.82 L85.39,114.79 L85.89,114.76 L86.39,114.73 L86.89,114.70 L87.39,114.67 L87.89,114.64 L88.39,114.61 L88.89,114.58 L89.38,114.55 L89.88,114.52 L90.38,114.49 L90.88,114.45 L91.38,114.42 L91.88,114.39 L92.38,114.36 L92.88,114.33 L93.38,114.30 L93.88,114.27 L94.37,114.24 L94.87,114.21 L95.37,114.18 L95.87,114.15 L96.37,114.11 L96.87,114.08 L97.37,114.05 L97.87,114.02 L98.36,113.99 L98.86,113.96 L99.36,113.93 L99.86,113.89 L100.36,113.86 L100.86,113.83 L101.36,113.80 L101.86,113.77 L102.36,113.73 L102.85,113.70 L103.35,113.67 L103.85,113.64 L104.35,113.61 L104.85,113.57 L105.35,113.54 L105.85,113.51 L106.35,113.48 L106.84,113.45 L107.34,113.41 L107.84,113.38 L108.34,113.35 L108.84,113.32 L109.34,113.28 L109.84,113.25 L110.34,113.22 L110.83,113.19 L111.33,113.15 L111.83,113.12 L112.33,113.09 L112.83,113.06 L113.33,113.02 L113.83,112.99 L114.33,112.96 L114.82,112.93 L115.32,112.89 L115.82,112.86 L116.32,112.83 L116.82,112.79 L117.32,112.76 L117.82,112.73 L118.31,112.70 L118.81,112.66 L119.31,112.63 L119.81,112.60 L120.31,112.57 L120.81,112.53 L121.31,112.50 L121.80,112.47 L122.30,112.43 L122.80,112.40 L123.30,112.37 L123.80,112.34 L124.30,112.30 L124.80,112.27 L125.29,112.24 L125.79,112.21 L126.29,112.17 L126.79,112.14 L127.29,112.11 L127.79,112.08 L128.29,112.04 L128.78,112.01 L129.28,111.98 L129.78,111.95 L130.28,111.91 L130.78,111.88 L131.28,111.85 L131.78,111.82 L132.27,111.78 L132.77,111.75 L133.27,111.72 L133.77,111.69 L134.27,111.65 L134.77,111.62 L135.26,111.59 L135.76,111.56 L136.26,111.53 L136.76,111.49 L137.26,111.46 L137.76,111.43 L138.25,111.40 L138.75,111.37 L139.25,111.33 L139.75,111.30 L140.25,111.27 L140.75,111.24 L141.24,111.21 L141.74,111.18 L142.24,111.14 L142.74,111.11 L143.24,111.08 L143.74,111.05 L144.23,111.02 L144.73,110.99 L145.23,110.96 L145.73,110.93 L146.23,110.89 L146.73,110.86 L147.22,110.83 L147.72,110.80 L148.22,110.77 L148.72,110.74 L149.22,110.71 L149.72,110.68 L150.21,110.65 L150.71,110.62 L151.21,110.59 L151.71,110.56 L152.21,110.53 L152.70,110.50 L153.20,110.47 L153.70,110.44 L154.20,110.41 L154.70,110.38 L155.20,110.35 L155.69,110.32 L156.19,110.29 L156.69,110.26 L157.19,110.23 L157.69,110.20 L158.18,110.17 L158.68,110.15 L159.18,110.12 L159.68,110.09 L160.18,110.06 L160.67,110.03 L161.17,110.00 L161.67,109.97 L162.17,109.95 L162.67,109.92 L163.16,109.89 L163.66,109.86 L164.16,109.84 L164.66,109.81 L165.16,109.78 L165.65,109.76 L166.15,109.73 L166.65,109.71 L167.15,109.69 L167.65,109.66 L168.15,109.64 L168.64,109.62 L169.14,109.60 L169.64,109.58 L170.14,109.57 L170.64,109.55 L171.14,109.54 L171.64,109.53 L172.13,109.52 L172.63,109.51 L173.13,109.50 L173.63,109.50 L174.13,109.49 L174.63,109.49 L175.13,109.49 L175.63,109.50 L176.13,109.50 L176.63,109.51 L177.13,109.52 L177.63,109.53 L178.13,109.55 L178.64,109.57 L179.14,109.59 L179.64,109.61 L180.14,109.64 L180.64,109.67 L181.14,109.70 L181.65,109.73 L182.15,109.77 L182.65,109.81 L183.15,109.86 L183.65,109.91 L184.16,109.96 L184.66,110.01 L185.16,110.07 L185.66,110.13 L186.16,110.19 L186.66,110.26 L187.16,110.33 L187.66,110.41 L188.15,110.48 L188.65,110.57 L189.15,110.65 L189.64,110.74 L190.14,110.83 L190.63,110.93 L191.13,111.03 L191.62,111.13 L192.11,111.24 L192.60,111.35 L193.09,111.46 L193.57,111.58 L194.06,111.70 L194.54,111.83 L195.03,111.96 L195.51,112.09 L195.99,112.23 L196.47,112.38 L196.95,112.52 L197.42,112.67 L197.89,112.83 L198.37,112.99 L198.84,113.15 L199.30,113.32 L199.77,113.49 L200.23,113.67 L200.70,113.85 L201.16,114.04 L201.61,114.22 L202.07,114.42 L202.52,114.62 L202.98,114.82 L203.43,115.02 L203.88,115.23 L204.32,115.45 L204.77,115.66 L205.21,115.88 L205.65,116.11 L206.09,116.34 L206.53,116.57 L206.97,116.80 L207.40,117.04 L207.84,117.29 L208.27,117.53 L208.70,117.78 L209.12,118.03 L209.55,118.29 L209.98,118.55 L210.40,118.81 L210.82,119.07 L211.24,119.34 L211.66,119.61 L212.08,119.88 L212.49,120.16 L212.91,120.44 L213.32,120.72 L213.73,121.00 L214.14,121.29 L214.55,121.58 L214.96,121.87 L215.36,122.17 L215.77,122.46 L216.17,122.76 L216.58,123.06 L216.98,123.36 L217.38,123.67 L217.77,123.98 L218.17,124.29 L218.57,124.60 L218.96,124.91 L219.36,125.23 L219.75,125.54 L220.14,125.86 L220.53,126.18 L220.92,126.50 L221.31,126.82 L221.70,127.14 L222.09,127.46 L222.48,127.78 L222.87,128.10 L223.26,128.42 L223.65,128.74 L224.05,129.05 L224.44,129.37 L224.84,129.68 L225.23,129.99 L225.63,130.29 L226.03,130.59 L226.44,130.89 L226.84,131.18 L227.25,131.47 L227.66,131.76 L228.07,132.04 L228.49,132.31 L228.91,132.59 L229.33,132.85 L229.75,133.11 L230.18,133.37 L230.61,133.62 L231.04,133.86 L231.47,134.10 L231.91,134.33 L232.35,134.56 L232.79,134.78 L233.24,135.00 L233.68,135.21 L234.13,135.41 L234.58,135.61 L235.03,135.81 L235.49,135.99 L235.95,136.17 L236.41,136.35 L236.87,136.52 L237.33,136.68 L237.80,136.83 L238.27,136.98 L238.74,137.13 L239.21,137.26 L239.68,137.39 L240.16,137.51 L240.63,137.63 L241.11,137.74 L241.59,137.84 L242.08,137.94 L242.56,138.03 L243.05,138.11 L243.53,138.18 L244.02,138.25 L244.51,138.32 L245.00,138.38 L245.49,138.43 L245.99,138.48 L246.48,138.52 L246.98,138.56 L247.48,138.59 L247.97,138.62 L248.47,138.64 L248.97,138.66 L249.47,138.68 L249.98,138.69 L250.48,138.70 L250.98,138.71 L251.48,138.71 L251.99,138.71 L252.49,138.71 L253.00,138.70 L253.50,138.70 L254.01,138.69 L254.52,138.68 L255.02,138.66 L255.53,138.65 L256.04,138.63 L256.54,138.62 L257.05,138.60 L257.56,138.58 L258.06,138.56 L258.57,138.54 L259.08,138.52 L259.58,138.50 L260.09,138.48 L260.60,138.46 L261.10,138.44 L261.61,138.43 L262.11,138.41 L262.62,138.39 L263.12,138.37 L263.63,138.36 L264.13,138.34 L264.63,138.32 L265.14,138.31 L265.64,138.29 L266.14,138.28 L266.65,138.26 L267.15,138.25 L267.65,138.24 L268.15,138.22 L268.65,138.21 L269.15,138.20 L269.66,138.18 L270.16,138.17 L270.66,138.16 L271.16,138.15 L271.66,138.13 L272.16,138.12 L272.66,138.11 L273.16,138.10 L273.66,138.09 L274.16,138.08 L274.66,138.07 L275.16,138.06 L275.66,138.05 L276.15,138.04 L276.65,138.03 L277.15,138.02 L277.65,138.02 L278.15,138.01 L278.65,138.00 L279.15,137.99 L279.65,137.98 L280.14,137.98 L280.64,137.97 L281.14,137.96 L281.64,137.95 L282.14,137.95 L282.63,137.94 L283.13,137.93 L283.63,137.93 L284.13,137.92 L284.62,137.91 L285.12,137.91 L285.62,137.90 L286.12,137.90 L286.62,137.89 L287.11,137.89 L287.61,137.88 L288.11,137.87 L288.61,137.87 L289.10,137.86 L289.60,137.86 L290.10,137.85 L290.60,137.85 L291.10,137.84 L291.59,137.84 L292.09,137.83 L292.59,137.83 L293.09,137.82 L293.59,137.82 L294.09,137.82 L294.58,137.81 L295.08,137.81 L295.58,137.80 L296.08,137.80 L296.58,137.79 L297.08,137.79 L297.57,137.79 L298.07,137.78 L298.57,137.78 L299.07,137.77 L299.57,137.77 L300.07,137.77 L300.57,137.76 L301.06,137.76 L301.56,137.76 L302.06,137.75 L302.56,137.75 L303.06,137.75 L303.56,137.74 L304.06,137.74 L304.56,137.74 L305.05,137.73 L305.55,137.73 L306.05,137.73 L306.55,137.72 L307.05,137.72 L307.55,137.72 L308.05,137.72 L308.55,137.71 L309.05,137.71 L309.55,137.71 L310.05,137.71 L310.55,137.70 L311.04,137.70 L311.54,137.70 L312.04,137.70 L312.54,137.69 L313.04,137.69 L313.54,137.69 L314.04,137.69 L314.54,137.69 L315.04,137.68 L315.54,137.68 L316.04,137.68 L316.54,137.68 L317.04,137.68 L317.54,137.68 L318.04,137.67 L318.54,137.67 L319.04,137.67 L319.54,137.67 L320.04,137.67 L320.53,137.67 L321.03,137.66 L321.53,137.66 L322.03,137.66 L322.53,137.66 L323.03,137.66 L323.53,137.66 L324.03,137.66 L324.53,137.66 L325.03,137.65 L325.53,137.65 L326.03,137.65 L326.53,137.65 L327.03,137.65 L327.53,137.65 L328.03,137.65 L328.53,137.65 L329.03,137.65 L329.53,137.65 L330.03,137.65 L330.53,137.65 L331.03,137.64 L331.53,137.64 L332.03,137.64 L332.53,137.64 L333.03,137.64 L333.53,137.64 L334.03,137.64 L334.53,137.64 L335.03,137.64 L335.53,137.64 L336.03,137.64 L336.53,137.64 L337.03,137.64 L337.53,137.64 L338.03,137.64 L338.53,137.64 L339.03,137.64 L339.53,137.64 L340.03,137.64 L340.53,137.64 L341.04,137.64 L341.54,137.64 L342.04,137.64 L342.54,137.64 L343.04,137.64 L343.54,137.64 L344.04,137.64 L344.54,137.64 L345.04,137.64 L345.54,137.64 L346.04,137.64 L346.54,137.64 L347.04,137.64 L347.54,137.64 L348.04,137.64 L348.54,137.64 L349.04,137.64 L349.54,137.64 L350.04,137.64 L350.54,137.64 L351.04,137.64 L351.54,137.64 L352.04,137.64 L352.54,137.64 L353.04,137.64 L353.54,137.64 L354.04,137.64 L354.54,137.64 L355.04,137.64 L355.54,137.64 L356.04,137.65 L356.54,137.65 L357.04,137.65 L357.54,137.65 L358.04,137.65 L358.54,137.65 L359.04,137.65 L359.54,137.65 L360.04,137.65 L360.54,137.65 L361.04,137.65 L361.54,137.65 L362.04,137.65 L362.54,137.65 L363.04,137.65 L363.54,137.65 L364.04,137.65 L364.54,137.65 L365.04,137.65 L365.55,137.65 L366.05,137.65 L366.55,137.65 L367.05,137.66 L367.55,137.66 L368.05,137.66 L368.55,137.66 L369.05,137.66 L369.55,137.66 L370.05,137.66 L370.55,137.66 L371.04,137.66 L371.54,137.66 L372.04,137.66 L372.54,137.66 L373.04,137.66 L373.54,137.66 L374.04,137.66 L374.54,137.66 L375.04,137.66 L375.54,137.66 L376.04,137.66 L376.54,137.66 L377.04,137.66 L377.54,137.66 L378.04,137.66 L378.54,137.66 L379.04,137.66 L379.54,137.66 L380.04,137.66 L380.54,137.66 L381.04,137.66 L381.54,137.67 L382.04,137.67 L382.54,137.67 L383.04,137.67 L383.54,137.67 L384.04,137.67 L384.54,137.67 L385.04,137.67 L385.54,137.67 L386.03,137.67 L386.53,137.67 L387.03,137.67 L387.53,137.67 L388.03,137.67 L388.53,137.67 L389.03,137.66 L389.53,137.66 L390.03,137.66 L390.53,137.66 L391.03,137.66 L391.53,137.66 L392.02,137.66 L392.52,137.66 L393.02,137.66 L393.52,137.66 L394.02,137.66 L394.52,137.66 L395.02,137.66 L395.52,137.66 L396.02,137.66 L396.51,137.66 L397.01,137.66 L397.51,137.66 L398.01,137.66 L398.51,137.66 L399.01,137.66 L399.51,137.65 L400.00,137.65 L400.50,137.65 L401.00,137.65 L401.50,137.65 L402.00,137.65 L402.50,137.65 L402.99,137.65 L403.49,137.65 L403.99,137.65 L404.49,137.64 L404.99,137.64 L405.49,137.64" stroke="#009900" stroke-dasharray="11.15 2.61 2.71 2.51" stroke-dashoffset="9.24"/>
<path d="M75,148.5 H101" stroke="#ff0000" stroke-dasharray="5.7 2.4"/>
<path d="M75,174.5 H101" stroke="#0000ff" stroke-dasharray="10.9 2.7 5.4 2.6"/>
<path d="M75,200.5 H101" stroke="#009900" stroke-dasharray="11.1 2.6 2.7 2.5"/>
<path d="M75,226.4 H101" stroke="#ffd700"/>
</g>
<path d="M21.54,21.8 v3.8 M21.54,258.2 v-3.8 M42.26,21.8 v3.8 M42.26,258.2 v-3.8 M52.62,21.8 v3.8 M52.62,258.2 v-3.8 M62.98,21.8 v3.8 M62.98,258.2 v-3.8 M73.34,21.8 v3.8 M73.34,258.2 v-3.8 M94.06,21.8 v3.8 M94.06,258.2 v-3.8 M104.42,21.8 v3.8 M104.42,258.2 v-3.8 M114.78,21.8 v3.8 M114.78,258.2 v-3.8 M125.14,21.8 v3.8 M125.14,258.2 v-3.8 M145.86,21.8 v3.8 M145.86,258.2 v-3.8 M156.22,21.8 v3.8 M156.22,258.2 v-3.8 M166.58,21.8 v3.8 M166.58,258.2 v-3.8 M176.94,21.8 v3.8 M176.94,258.2 v-3.8 M197.66,21.8 v3.8 M197.66,258.2 v-3.8 M208.02,21.8 v3.8 M208.02,258.2 v-3.8 M218.38,21.8 v3.8 M218.38,258.2 v-3.8 M228.74,21.8 v3.8 M228.74,258.2 v-3.8 M249.46,21.8 v3.8 M249.46,258.2 v-3.8 M259.82,21.8 v3.8 M259.82,258.2 v-3.8 M270.18,21.8 v3.8 M270.18,258.2 v-3.8 M280.54,21.8 v3.8 M280.54,258.2 v-3.8 M301.26,21.8 v3.8 M301.26,258.2 v-3.8 M311.62,21.8 v3.8 M311.62,258.2 v-3.8 M321.98,21.8 v3.8 M321.98,258.2 v-3.8 M332.34,21.8 v3.8 M332.34,258.2 v-3.8 M353.06,21.8 v3.8 M353.06,258.2 v-3.8 M363.42,21.8 v3.8 M363.42,258.2 v-3.8 M373.78,21.8 v3.8 M373.78,258.2 v-3.8 M384.14,21.8 v3.8 M384.14,258.2 v-3.8 M404.86,21.8 v3.8 M404.86,258.2 v-3.8 M21.6,247.75 h3.8 M404.8,247.75 h-3.8 M21.6,236.99 h3.8 M404.8,236.99 h-3.8 M21.6,215.47 h3.8 M404.8,215.47 h-3.8 M21.6,204.71 h3.8 M404.8,204.71 h-3.8 M21.6,193.95 h3.8 M404.8,193.95 h-3.8 M21.6,172.43 h3.8 M404.8,172.43 h-3.8 M21.6,161.67 h3.8 M404.8,161.67 h-3.8 M21.6,150.91 h3.8 M404.8,150.91 h-3.8 M21.6,129.39 h3.8 M404.8,129.39 h-3.8 M21.6,118.63 h3.8 M404.8,118.63 h-3.8 M21.6,107.87 h3.8 M404.8,107.87 h-3.8 M21.6,86.35 h3.8 M404.8,86.35 h-3.8 M21.6,75.59 h3.8 M404.8,75.59 h-3.8 M21.6,64.83 h3.8 M404.8,64.83 h-3.8 M21.6,43.31 h3.8 M404.8,43.31 h-3.8 M21.6,32.55 h3.8 M404.8,32.55 h-3.8" stroke="#000" stroke-width="1.4" fill="none"/>
<path d="M31.90,21.8 v7.4 M31.90,258.2 v-7.4 M83.70,21.8 v7.4 M83.70,258.2 v-7.4 M135.50,21.8 v7.4 M135.50,258.2 v-7.4 M187.30,21.8 v7.4 M187.30,258.2 v-7.4 M239.10,21.8 v7.4 M239.10,258.2 v-7.4 M290.90,21.8 v7.4 M290.90,258.2 v-7.4 M342.70,21.8 v7.4 M342.70,258.2 v-7.4 M394.50,21.8 v7.4 M394.50,258.2 v-7.4 M21.6,226.23 h7.4 M404.8,226.23 h-7.4 M21.6,183.19 h7.4 M404.8,183.19 h-7.4 M21.6,140.15 h7.4 M404.8,140.15 h-7.4 M21.6,97.11 h7.4 M404.8,97.11 h-7.4 M21.6,54.07 h7.4 M404.8,54.07 h-7.4" stroke="#000" stroke-width="2.1" fill="none"/>
<rect x="21.6" y="21.8" width="383.2" height="236.39999999999998" fill="none" stroke="#000" stroke-width="1.6"/>
<g font-family="'Liberation Serif', serif" font-size="17" fill="#000" text-rendering="geometricPrecision">
<text x="31.90" y="276.2" text-anchor="middle">0.6</text>
<text x="83.70" y="276.2" text-anchor="middle">0.7</text>
<text x="135.50" y="276.2" text-anchor="middle">0.8</text>
<text x="187.30" y="276.2" text-anchor="middle">0.9</text>
<text x="239.10" y="276.2" text-anchor="middle">1.0</text>
<text x="290.90" y="276.2" text-anchor="middle">1.1</text>
<text x="342.70" y="276.2" text-anchor="middle">1.2</text>
<text x="394.50" y="276.2" text-anchor="middle">1.3</text>
<text x="19.2" y="231.98" text-anchor="end">−4</text>
<text x="19.2" y="188.94" text-anchor="end">−2</text>
<text x="19.2" y="145.90" text-anchor="end">0</text>
<text x="19.2" y="102.86" text-anchor="end">2</text>
<text x="19.2" y="59.82" text-anchor="end">4</text>
<text x="196.3" y="299.8" font-style="italic">T</text>
<path d="M210.0,302.5 L214.4,288.1" stroke="#000" stroke-width="1.0" fill="none"/>
<text x="214.4" y="299.8" font-style="italic">T</text>
</g>
<g font-family="'Liberation Serif', serif" fill="#000" text-rendering="geometricPrecision" transform="rotate(0.04 130 190)">
<g transform="translate(108.4,152.8)" fill="none" stroke="#000" stroke-linecap="round"><path d="M1.8,-4.5 C2.0,-5.6 2.8,-6.0 3.1,-4.9 L5.1,1.5 C5.4,2.5 6.0,2.6 6.6,1.7" stroke-width="0.85"/><path d="M8.4,-6.0 L0.0,2.9" stroke-width="0.55"/></g><text x="117.7" y="147.4" font-size="8.6">6</text><text x="117.60000000000001" y="155.8" font-size="8.8">B</text>
<path d="M124.7,155.20000000000002 L128.7,143.70000000000002" stroke="#000" stroke-width="0.8" fill="none"/>
<g transform="translate(129.4,152.8)" fill="none" stroke="#000" stroke-linecap="round"><path d="M1.8,-4.5 C2.0,-5.6 2.8,-6.0 3.1,-4.9 L5.1,1.5 C5.4,2.5 6.0,2.6 6.6,1.7" stroke-width="0.85"/><path d="M8.4,-6.0 L0.0,2.9" stroke-width="0.55"/></g><text x="138.70000000000002" y="147.4" font-size="8.6">2</text><text x="138.6" y="155.8" font-size="8.8">B</text>
<g transform="translate(108.4,178.8)" fill="none" stroke="#000" stroke-linecap="round"><path d="M1.8,-4.5 C2.0,-5.6 2.8,-6.0 3.1,-4.9 L5.1,1.5 C5.4,2.5 6.0,2.6 6.6,1.7" stroke-width="0.85"/><path d="M8.4,-6.0 L0.0,2.9" stroke-width="0.55"/></g><text x="117.7" y="173.4" font-size="8.6">5</text><text x="117.60000000000001" y="181.8" font-size="8.8">B</text>
<path d="M124.7,181.20000000000002 L128.7,169.70000000000002" stroke="#000" stroke-width="0.8" fill="none"/>
<g transform="translate(129.4,178.8)" fill="none" stroke="#000" stroke-linecap="round"><path d="M1.8,-4.5 C2.0,-5.6 2.8,-6.0 3.1,-4.9 L5.1,1.5 C5.4,2.5 6.0,2.6 6.6,1.7" stroke-width="0.85"/><path d="M8.4,-6.0 L0.0,2.9" stroke-width="0.55"/></g><text x="138.70000000000002" y="173.4" font-size="8.6">1</text><text x="138.6" y="181.8" font-size="8.8">B</text>
<g transform="translate(108.4,204.8)" fill="none" stroke="#000" stroke-linecap="round"><path d="M1.8,-4.5 C2.0,-5.6 2.8,-6.0 3.1,-4.9 L5.1,1.5 C5.4,2.5 6.0,2.6 6.6,1.7" stroke-width="0.85"/><path d="M8.4,-6.0 L0.0,2.9" stroke-width="0.55"/></g><text x="117.7" y="199.4" font-size="8.6">4</text><text x="117.60000000000001" y="207.8" font-size="8.8">B</text>
<path d="M124.7,207.20000000000002 L128.7,195.70000000000002" stroke="#000" stroke-width="0.8" fill="none"/>
<g transform="translate(129.4,204.8)" fill="none" stroke="#000" stroke-linecap="round"><path d="M1.8,-4.5 C2.0,-5.6 2.8,-6.0 3.1,-4.9 L5.1,1.5 C5.4,2.5 6.0,2.6 6.6,1.7" stroke-width="0.85"/><path d="M8.4,-6.0 L0.0,2.9" stroke-width="0.55"/></g><text x="138.70000000000002" y="199.4" font-size="8.6">2</text><text x="138.6" y="207.8" font-size="8.8">B</text>
<text x="108.6" y="230.70000000000002" font-size="14">3</text><text x="114.8" y="230.70000000000002" font-size="14">g</text>
<text x="122.3" y="225.3" font-size="8.6">2</text>
<text x="122.3" y="233.70000000000002" font-size="8.6">s</text>
<text x="126.6" y="230.70000000000002" font-size="14">f</text>
<text x="133.6" y="225.3" font-size="8.6">2</text>
<text x="131.7" y="233.60000000000002" font-size="9.8" font-style="italic">π</text>
<g transform="translate(139.3,230.70000000000002)" fill="none" stroke="#000" stroke-linecap="round"><path d="M1.8,-4.5 C2.0,-5.6 2.8,-6.0 3.1,-4.9 L5.1,1.5 C5.4,2.5 6.0,2.6 6.6,1.7" stroke-width="0.85"/><path d="M8.4,-6.0 L0.0,2.9" stroke-width="0.55"/></g>
<text x="147.6" y="233.00000000000003" font-size="9">Ch</text>
</g>
</svg>
</body></html>
